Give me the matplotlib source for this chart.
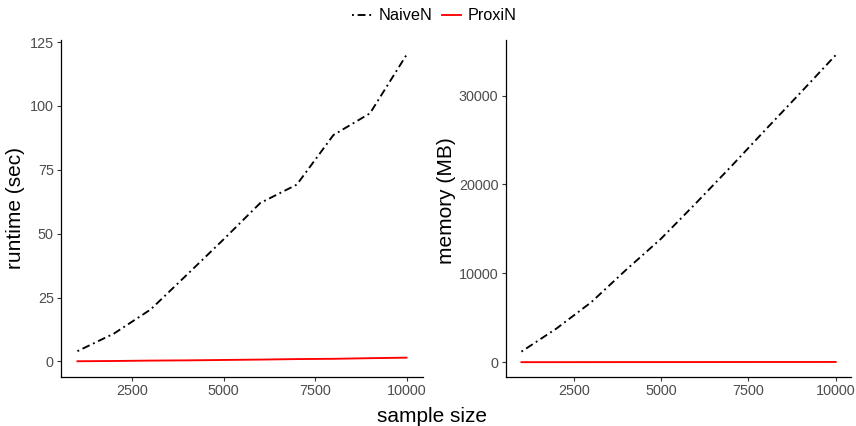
import matplotlib
matplotlib.use("Agg")
import matplotlib.pyplot as plt
from matplotlib.lines import Line2D

plt.rcParams['font.family'] = ['Liberation Sans', 'DejaVu Sans']

sample_size = [1000, 2000, 3000, 4000, 5000, 6000, 7000, 8000, 9000, 10000]
runtime_naive = [4.0, 10.9, 20.3, 34.0, 47.8, 62.0, 69.2, 88.6, 97.1, 120.0]
runtime_proxi = [0.05, 0.15, 0.3, 0.4, 0.55, 0.7, 0.9, 1.0, 1.25, 1.45]
memory_naive = [1190, 3780, 6750, 10400, 13900, 17900, 22000, 26200, 30350, 34550]
memory_proxi = [5, 8, 10, 13, 15, 18, 20, 23, 25, 28]

x_ticks = [2500, 5000, 7500, 10000]
runtime_ticks = [0, 25, 50, 75, 100, 125]
memory_ticks = [0, 10000, 20000, 30000]

W, H = 856, 426
fig = plt.figure(figsize=(W / 100, H / 100), dpi=100)

def px_axes(x0, x1, ytop, ybot):
    return fig.add_axes([x0 / W, (H - ybot) / H, (x1 - x0) / W, (ybot - ytop) / H])

ax1 = px_axes(61, 423, 40, 376.7)
ax2 = px_axes(505.7, 851.4, 40, 376.7)

dotdash = (0, (1, 2, 4.2, 2))
lw = 1.35

ax1.plot(sample_size, runtime_naive, color='black', lw=lw, linestyle=dotdash)
ax1.plot(sample_size, runtime_proxi, color='#FF0000', lw=lw)
ax2.plot(sample_size, memory_naive, color='black', lw=lw, linestyle=dotdash)
ax2.plot(sample_size, memory_proxi, color='#FF0000', lw=lw)

ax1.set_xlim(550, 10450)
ax1.set_ylim(-6, 125.8)
ax2.set_xlim(550, 10450)
ax2.set_ylim(-1630, 36250)

ax1.set_yticks(runtime_ticks)
ax2.set_yticks(memory_ticks)
for ax in (ax1, ax2):
    ax.set_xticks(x_ticks)
    for s in ('top', 'right'):
        ax.spines[s].set_visible(False)
    for s in ('left', 'bottom'):
        ax.spines[s].set_linewidth(0.9)
        ax.spines[s].set_color('black')
    ax.tick_params(axis='both', length=3.2, width=0.8, color='#333333',
                   labelcolor='#4D4D4D', labelsize=10.4, pad=2)
    ax.set_facecolor('white')

fig.text(16 / W, 1 - 208 / H, 'runtime (sec)', rotation=90, ha='center', va='center',
         fontsize=15, color='black')
fig.text(447 / W, 1 - 201 / H, 'memory (MB)', rotation=90, ha='center', va='center',
         fontsize=15, color='black')
fig.text(432 / W, 1 - 416 / H, 'sample size', ha='center', va='center',
         fontsize=15, color='black')

handles = [Line2D([], [], color='black', lw=lw, linestyle=dotdash),
           Line2D([], [], color='#FF0000', lw=lw)]
fig.legend(handles, ['NaiveN', 'ProxiN'], loc='center', bbox_to_anchor=(434.5 / W, 1 - 15.7 / H),
           ncol=2, frameon=False, fontsize=11.7, handlelength=1.2, handletextpad=0.4,
           columnspacing=0.6, borderpad=0.1)

fig.savefig('out.png', dpi=100, facecolor='white')
